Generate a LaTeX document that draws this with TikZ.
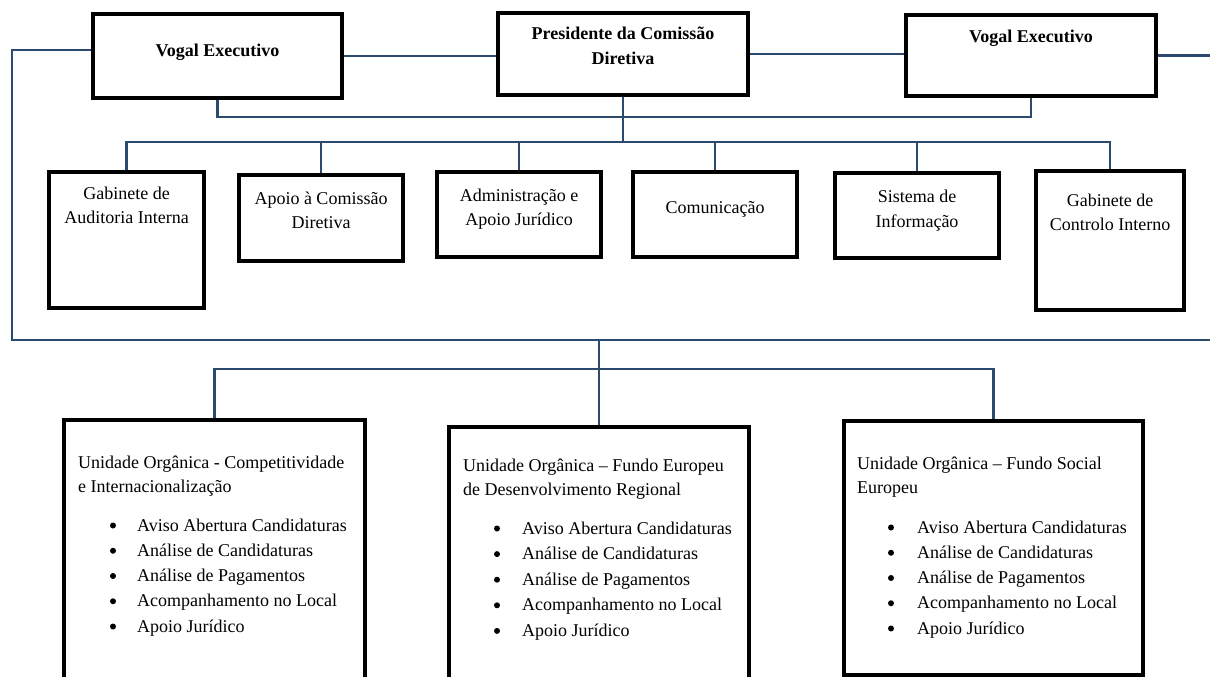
\documentclass[tikz,border=0pt]{standalone}
\usepackage{fontspec}
\setmainfont{Liberation Serif}
\definecolor{linkblue}{RGB}{44,74,110}
\begin{document}
\begin{tikzpicture}[x=1pt,y=-1pt,
  box/.style={draw=black, line width=3.2, inner sep=0},
  link/.style={draw=linkblue, line width=2.2},
  txt/.style={font=\fontsize{18}{24}\selectfont, anchor=base, inner sep=0},
  btxt/.style={txt, font=\fontsize{18}{24}\selectfont\bfseries},
  ltxt/.style={txt, anchor=base west},
  dot/.style={circle, fill=black, inner sep=0, minimum size=6}]
\useasboundingbox (0,0) rectangle (1210,677);
\clip (0,0) rectangle (1210,677);

% top level
\node[box, minimum width=249, minimum height=84] (vl) at (217.5,56) {};
\node[box, minimum width=250, minimum height=82] (pres) at (623,54) {};
\node[box, minimum width=250, minimum height=81] (vr) at (1031,55.5) {};
\node[btxt] (vl-t) at (217.5,57) {Vogal Executivo};
\node[btxt] (pres-t1) at (623,40) {Presidente da Comissão};
\node[btxt] (pres-t2) at (623,65) {Diretiva};
\node[btxt] (vr-t) at (1031,43) {Vogal Executivo};

% support units
\node[box, minimum width=155, minimum height=136] (ga) at (126.5,240) {};
\node[box, minimum width=164, minimum height=86] (ap) at (321,218) {};
\node[box, minimum width=164, minimum height=85] (ad) at (519,214.5) {};
\node[box, minimum width=164, minimum height=85] (co) at (715,214.5) {};
\node[box, minimum width=164, minimum height=85] (si) at (917,215.5) {};
\node[box, minimum width=148, minimum height=139] (gc) at (1110,240.5) {};

\node[txt] (ga-t1) at (126.5,199) {Gabinete de};
\node[txt] (ga-t2) at (126.5,223) {Auditoria Interna};
\node[txt] (ap-t1) at (321,204) {Apoio à Comissão};
\node[txt] (ap-t2) at (321,228) {Diretiva};
\node[txt] (ad-t1) at (519,201) {Administração e};
\node[txt] (ad-t2) at (519,225) {Apoio Jurídico};
\node[txt] (co-t) at (715,213) {Comunicação};
\node[txt] (si-t1) at (917,202) {Sistema de};
\node[txt] (si-t2) at (917,227) {Informação};
\node[txt] (gc-t1) at (1110,206) {Gabinete de};
\node[txt] (gc-t2) at (1110,230) {Controlo Interno};

% operational units
\node[box, minimum width=301, minimum height=290] (u1) at (214.5,565) {};
\node[box, minimum width=300, minimum height=283] (u2) at (599,568.5) {};
\node[box, minimum width=299, minimum height=254] (u3) at (993.5,548) {};

\node[ltxt] (u1-t1) at (78,468) {Unidade Orgânica - Competitividade};
\node[ltxt] (u1-t2) at (78,492) {e Internacionalização};
\node[ltxt] (u2-t1) at (463,471) {Unidade Orgânica – Fundo Europeu};
\node[ltxt] (u2-t2) at (463,495) {de Desenvolvimento Regional};
\node[ltxt] (u3-t1) at (857,469) {Unidade Orgânica – Fundo Social};
\node[ltxt] (u3-t2) at (857,493) {Europeu};

\foreach \lbl [count=\k from 0] in {Aviso Abertura Candidaturas, Análise de Candidaturas, Análise de Pagamentos, Acompanhamento no Local, Apoio Jurídico} {
  \node[dot] (u1-b\k) at (113, 525.5+25.25*\k) {};
  \node[ltxt] (u1-i\k) at (137, 531+25.25*\k) {\lbl};
  \node[dot] (u2-b\k) at (497, 528.5+25.6*\k) {};
  \node[ltxt] (u2-i\k) at (522, 534+25.6*\k) {\lbl};
  \node[dot] (u3-b\k) at (891, 527.5+25.25*\k) {};
  \node[ltxt] (u3-i\k) at (917, 533+25.25*\k) {\lbl};
}

% connectors
\coordinate (cornerT) at (12,50);
\coordinate (endR) at (1210,340);
\coordinate (endT) at (1210,50);
\coordinate (bar1) at (623,117);
\coordinate (bus2) at (623,142);
\coordinate (mid) at (599,340);
\coordinate (bus3) at (599,369);

\draw[link] (cornerT -| vl.west) -- (cornerT) |- (endR);
\draw[link] (vl.east) -- (vl.east -| pres.west);
\draw[link] (pres.east) -- (pres.east -| vr.west);
\draw[link] (vr.east) -- (vr.east -| endT);
\draw[link] (vl.south) |- (bar1) -| (vr.south);
\draw[link] (pres.south) -- (bus2);
\draw[link] (ga.north) |- (bus2) -| (gc.north);
\draw[link] (ap.north) -- (ap.north |- bus2);
\draw[link] (ad.north) -- (ad.north |- bus2);
\draw[link] (co.north) -- (co.north |- bus2);
\draw[link] (si.north) -- (si.north |- bus2);
\draw[link] (mid) -- (u2.north);
\draw[link] (u1.north) |- (bus3) -| (u3.north);
\end{tikzpicture}
\end{document}
